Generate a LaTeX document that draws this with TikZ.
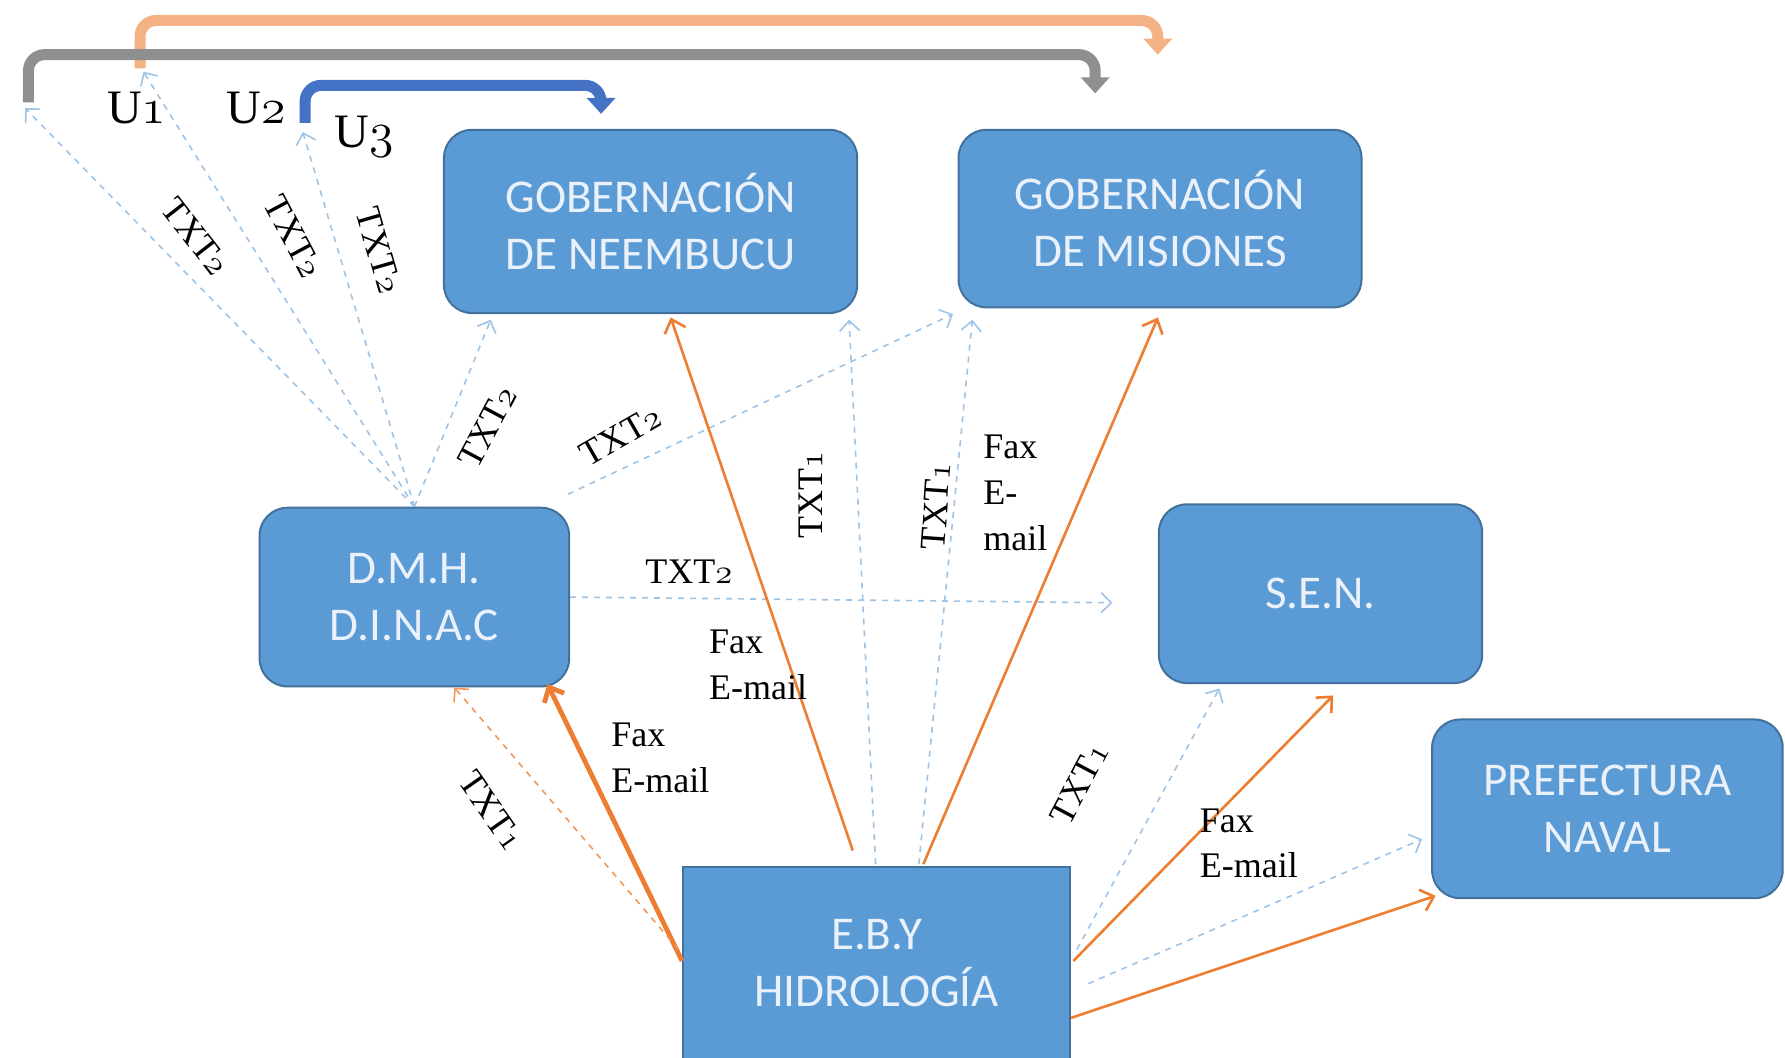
\documentclass[tikz,border=0pt]{standalone}
\usepackage{fontspec}
\setmainfont{Liberation Serif}
\newfontfamily\boxfont{Carlito}
\usetikzlibrary{arrows.meta,calc}
\newdimen\pxu \pxu=0.5692pt
\definecolor{boxfill}{HTML}{5B9BD5}
\definecolor{boxline}{HTML}{41719C}
\definecolor{boxtext}{HTML}{EAF1FA}
\definecolor{lblue}{HTML}{9DC3E6}
\definecolor{orng}{HTML}{ED7D31}
\definecolor{lorng}{HTML}{F4B183}
\definecolor{gry}{HTML}{8F8F8F}
\definecolor{dblue}{HTML}{4472C4}
\newcommand{\osn}[1]{$\mathnormal{#1}$}
\tikzset{
  box/.style={draw=boxline, line width=1pt, fill=boxfill, rounded corners=14pt,
    text=boxtext, font=\boxfont\fontsize{23.5}{28.5}\selectfont, align=center, inner sep=0pt},
  sqbox/.style={box, rounded corners=0pt},
  lbl/.style={font=\fontsize{18}{22.8}\selectfont, inner sep=0pt, align=left},
  ulbl/.style={font=\fontsize{24}{28}\selectfont, inner sep=0pt},
  dashb/.style={draw=lblue, dashed, line width=0.8pt, -{Straight Barb[length=5pt,width=10pt]}},
  dasho/.style={draw=orng!80, dashed, line width=0.8pt, -{Straight Barb[length=5pt,width=10pt]}},
  orl/.style={draw=orng, line width=1.3pt, -{Straight Barb[length=6pt,width=11pt]}},
  orlthick/.style={draw=orng, line width=2.4pt, -{Straight Barb[length=6pt,width=11pt]}},
  bracket/.style={line width=5.5pt, rounded corners=8pt, -{Triangle[length=8pt,width=14pt]}}
}
\begin{document}
\begin{tikzpicture}[x=0.5692pt, y=-0.5692pt]
\path[use as bounding box] (0,0) rectangle (1568,929);

% boxes
\node[box, minimum width=363\pxu, minimum height=161\pxu] (gobN) at (571.5,194.5) {GOBERNACIÓN\\DE NEEMBUCU};
\node[box, minimum width=354\pxu, minimum height=156\pxu] (gobM) at (1019,192) {GOBERNACIÓN\\DE MISIONES};
\node[box, minimum width=272\pxu, minimum height=157\pxu] (dmh) at (364,524.5) {D.M.H.\\D.I.N.A.C};
\node[box, minimum width=284\pxu, minimum height=157\pxu] (sen) at (1160,521.5) {S.E.N.};
\node[box, minimum width=308\pxu, minimum height=157\pxu] (pref) at (1412,710.5) {PREFECTURA\\NAVAL};
\node[sqbox, minimum width=340\pxu, minimum height=168\pxu] (eby) at (770,846) {E.B.Y\\HIDROLOGÍA};

% bracket arrows
\coordinate (gS) at (25,90);
\coordinate (gE) at (962,82);
\coordinate (oS) at (123,60);
\coordinate (oE) at (1017,48);
\coordinate (bS) at (268,108);
\coordinate (bE) at (528,100);
\draw[bracket, lorng] (oS) -- (123,18) -- (1017,18) -- (oE);
\draw[bracket, gry] (gS) -- (25,48) -- (962,48) -- (gE);
\draw[bracket, dblue] (bS) -- (268,75) -- (528,75) -- (bE);

\node[ulbl] (u1) at (120,95) {U\osn{1}};
\node[ulbl] (u2) at (225,95) {U\osn{2}};
\node[ulbl] (u3) at (320,120) {U\osn{3}};

% endpoints
\coordinate (tG) at (22,95);
\coordinate (tO) at (126,63);
\coordinate (tB) at (266,116);

% dashed blue from DMH
\draw[dashb] (dmh.north) -- (tG);
\draw[dashb] (dmh.north) -- (tO);
\draw[dashb] (dmh.north) -- (tB);
\draw[dashb] (dmh.north) -- ($(gobN.south west)+(42,5)$);
\draw[dashb] ($(dmh.north east)+(-2,-11)$) -- ($(gobM.south west)+(-4,5)$);
\draw[dashb] (dmh.east) -- ($(sen.west)+(-40,8)$);

% from EBY
\draw[orlthick] ($(eby.north west)+(0,83)$) -- ($(dmh.south east)+(-20,-3)$);
\draw[dasho] ($(eby.north west)+(-3,73)$) -- ($(dmh.south west)+(172,0)$);
\draw[orl] ($(eby.north west)+(150,-14)$) -- ($(gobN.south west)+(200,3)$);
\draw[dashb] ($(eby.north west)+(170,-2)$) -- ($(gobN.south east)+(-8,5)$);
\draw[dashb] ($(eby.north west)+(208,-2)$) -- ($(gobM.south west)+(13,10)$);
\draw[orl] ($(eby.north west)+(212,-2)$) -- ($(gobM.south west)+(176,8)$);
\draw[dashb] ($(eby.north east)+(5,73)$) -- ($(sen.south west)+(54,4)$);
\draw[orl] ($(eby.north east)+(2,83)$) -- ($(sen.south west)+(154,10)$);
\draw[dashb] ($(eby.north east)+(15,103)$) -- ($(pref.north west)+(-8,106)$);
\draw[orl] ($(eby.north east)+(0,133)$) -- ($(pref.south west)+(4,-3)$);

% labels
\node[lbl, rotate=-52] (l1) at (172,208) {TXT\osn{2}};
\node[lbl, rotate=-62] (l2) at (258,208) {TXT\osn{2}};
\node[lbl, rotate=-74] (l3) at (333,220) {TXT\osn{2}};
\node[lbl, rotate=62] (l4) at (428,375) {TXT\osn{2}};
\node[lbl, rotate=30] (l5) at (545,383) {TXT\osn{2}};
\node[lbl] (l6) at (605,502) {TXT\osn{2}};
\node[lbl, rotate=-55] (l7) at (432,712) {TXT\osn{1}};
\node[lbl, rotate=90] (l8) at (712,435) {TXT\osn{1}};
\node[lbl, rotate=86] (l9) at (822,445) {TXT\osn{1}};
\node[lbl, rotate=62] (l10) at (948,688) {TXT\osn{1}};
\node[lbl] (f1) at (666,584) {Fax\\E-mail};
\node[lbl] (f2) at (580,666) {Fax\\E-mail};
\node[lbl] (f3) at (892,433) {Fax\\E-\\mail};
\node[lbl] (f4) at (1097,741) {Fax\\E-mail};
\end{tikzpicture}
\end{document}
